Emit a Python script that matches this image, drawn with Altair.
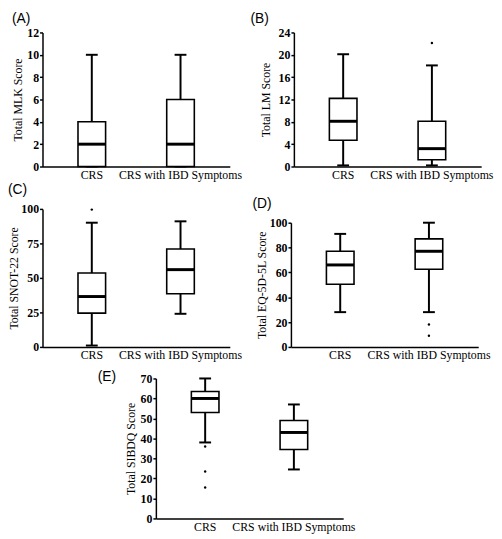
import altair as alt
import pandas as pd

groups = ["CRS", "CRS with IBD Symptoms"]

# (A) Total MLK Score
mlk_min = [0, 0]
mlk_q1 = [0, 0]
mlk_median = [2, 2]
mlk_q3 = [4, 6]
mlk_max = [10, 10]
mlk_out_group = []
mlk_out_value = []
mlk_ticks = [0, 2, 4, 6, 8, 10, 12]

# (B) Total LM Score
lm_min = [0.2, 0.2]
lm_q1 = [4.7, 1.2]
lm_median = [8.1, 3.2]
lm_q3 = [12.2, 8.1]
lm_max = [20.1, 18.1]
lm_out_group = ["CRS with IBD Symptoms"]
lm_out_value = [22.1]
lm_ticks = [0, 4, 8, 12, 16, 20, 24]

# (C) Total SNOT-22 Score
snot_min = [1, 24]
snot_q1 = [24.5, 38.5]
snot_median = [36.5, 56]
snot_q3 = [53.5, 71]
snot_max = [90, 91]
snot_out_group = ["CRS"]
snot_out_value = [99.5]
snot_ticks = [0, 25, 50, 75, 100]

# (D) Total EQ-5D-5L Score
eq_min = [28, 28]
eq_q1 = [50.5, 62.5]
eq_median = [66, 77]
eq_q3 = [77, 87]
eq_max = [91, 100]
eq_out_group = ["CRS with IBD Symptoms", "CRS with IBD Symptoms"]
eq_out_value = [18, 9]
eq_ticks = [0, 20, 40, 60, 80, 100]

# (E) Total SIBDQ Score
sib_min = [38, 24.5]
sib_q1 = [53, 34.5]
sib_median = [60, 43]
sib_q3 = [63.5, 49]
sib_max = [70, 57]
sib_out_group = ["CRS", "CRS", "CRS"]
sib_out_value = [36, 23.5, 15.5]
sib_ticks = [0, 10, 20, 30, 40, 50, 60, 70]

SERIF = "Liberation Serif"
SANS = "Liberation Sans"


def panel(letter, ytitle, mins, q1s, meds, q3s, maxs, out_g, out_v, ymax, ticks,
          width, height, title_pad, t_offset, t_dx):
    stats = pd.DataFrame({"group": groups, "lo": mins, "q1": q1s, "med": meds,
                          "q3": q3s, "hi": maxs})
    step = 90.0
    xscale = alt.Scale(domain=groups, paddingInner=0,
                       paddingOuter=(width - 2 * step) / (2 * step))
    xaxis = alt.Axis(title=None, labelAngle=0, ticks=False, grid=False,
                     domainColor="black", domainWidth=1.5,
                     labelFont=SERIF, labelFontSize=12, labelColor="black",
                     labelPadding=3)
    yaxis = alt.Axis(title=ytitle, values=ticks, grid=False,
                     domainColor="black", domainWidth=1.5,
                     tickColor="black", tickSize=3, tickWidth=1.5,
                     labelFont=SERIF, labelFontWeight="bold", labelFontSize=12,
                     labelColor="black", labelPadding=1,
                     titleFont=SERIF, titleFontWeight="normal", titleFontSize=12,
                     titleColor="black", titlePadding=title_pad)
    yscale = alt.Scale(domain=[0, ymax], nice=False, zero=True)

    def X():
        return alt.X("group:N", scale=xscale, sort=groups, axis=xaxis)

    def Y(f):
        return alt.Y(f + ":Q", scale=yscale, axis=yaxis)

    base = alt.Chart(stats)
    whisk = base.mark_rule(color="black", strokeWidth=2).encode(
        x=X(), y=Y("lo"), y2="hi:Q")
    cap_lo = base.mark_tick(color="black", size=12, thickness=2, opacity=1).encode(
        x=X(), y=Y("lo"))
    cap_hi = base.mark_tick(color="black", size=12, thickness=2, opacity=1).encode(
        x=X(), y=Y("hi"))
    box = base.mark_bar(size=28, fill="white", stroke="black", strokeWidth=1.6).encode(
        x=X(), y=Y("q1"), y2="q3:Q")
    med = base.mark_tick(color="black", size=28, thickness=3, opacity=1).encode(
        x=X(), y=Y("med"))
    layers = [whisk, cap_lo, cap_hi, box, med]
    if out_g:
        outs = pd.DataFrame({"group": out_g, "value": out_v})
        pts = alt.Chart(outs).mark_circle(size=6, color="black", opacity=1).encode(
            x=X(), y=Y("value"))
        layers.append(pts)
    return alt.layer(*layers).properties(
        width=width, height=height,
        title=alt.TitleParams(f"({letter})", anchor="start", font=SANS,
                              fontSize=14, fontWeight="normal", color="black",
                              offset=t_offset, dx=t_dx))


def spacer(w, h):
    d = pd.DataFrame({"v": [0]})
    return alt.Chart(d).mark_point(opacity=0).encode(
        x=alt.X("v:Q", axis=None), y=alt.Y("v:Q", axis=None)
    ).properties(width=w, height=h)


A = panel("A", "Total MLK Score", mlk_min, mlk_q1, mlk_median, mlk_q3, mlk_max,
          mlk_out_group, mlk_out_value, 12, mlk_ticks, 190, 136, 2, 1, 0)
B = panel("B", "Total LM Score", lm_min, lm_q1, lm_median, lm_q3, lm_max,
          lm_out_group, lm_out_value, 24, lm_ticks, 190, 136, 6, 1, -9)
C = panel("C", "Total SNOT-22 Score", snot_min, snot_q1, snot_median, snot_q3, snot_max,
          snot_out_group, snot_out_value, 100, snot_ticks, 190, 140, 0, 6, 0)
D = panel("D", "Total EQ-5D-5L Score", eq_min, eq_q1, eq_median, eq_q3, eq_max,
          eq_out_group, eq_out_value, 100, eq_ticks, 190, 126, 1, 6, -3)
E = panel("E", "Total SIBDQ Score", sib_min, sib_q1, sib_median, sib_q3, sib_max,
          sib_out_group, sib_out_value, 70, sib_ticks, 190, 142, 3, -12, -27)

row1 = alt.hconcat(A, B, spacing=8)
row2 = alt.hconcat(C, alt.vconcat(spacer(190, 1), D, spacing=-16), spacing=10)
row3 = alt.hconcat(spacer(49, 1), E, spacing=7)

top = alt.vconcat(row1, row2, spacing=3)
chart = alt.vconcat(top, row3, spacing=10).properties(
    padding=0, background="white"
).configure_view(strokeWidth=0)

chart.save("out.html", embed_options={"renderer": "svg", "actions": False})
